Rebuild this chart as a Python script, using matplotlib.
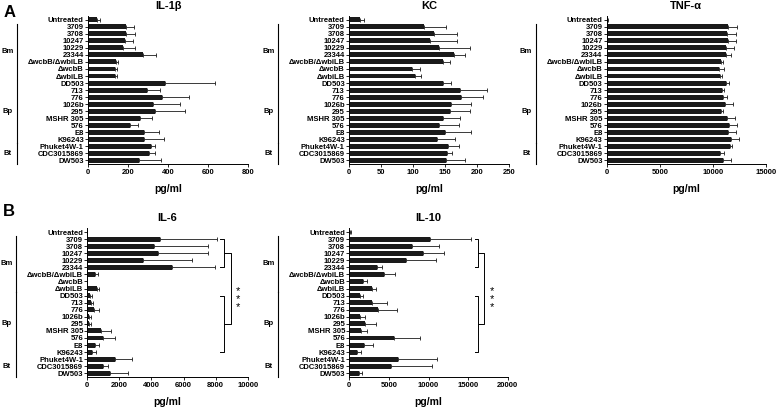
import matplotlib
matplotlib.use("Agg")
import matplotlib.pyplot as plt
import matplotlib.transforms as mtrans
import numpy as np

plt.rcParams['font.family'] = ['Liberation Sans', 'DejaVu Sans']
plt.rcParams['font.weight'] = 'bold'

strains = ['Untreated', '3709', '3708', '10247', '10229', '23344',
           '\u0394wcbB/\u0394wbiLB', '\u0394wcbB', '\u0394wbiLB', 'DD503',
           '713', '776', '1026b', '295', 'MSHR 305', '576', 'E8', 'K96243',
           'Phuket4W-1', 'CDC3015869', 'DW503']
groups = [('Bm', 1, 8), ('Bp', 9, 17), ('Bt', 18, 20)]

il1b = [45, 190, 192, 187, 175, 275, 142, 133, 137, 383, 295, 370, 325, 337, 258, 208, 278, 282, 317, 307, 253]
il1b_sd = [15, 38, 45, 36, 58, 65, 8, 12, 8, 254, 63, 133, 137, 150, 64, 42, 75, 96, 20, 26, 114]
kc = [17, 117, 133, 126, 140, 164, 147, 98, 103, 147, 173, 174, 159, 158, 146, 140, 149, 137, 154, 153, 152]
kc_sd = [6, 34, 36, 43, 48, 17, 11, 13, 9, 12, 43, 35, 31, 30, 27, 32, 41, 29, 18, 7, 29]
tnf = [30, 11450, 11300, 11420, 11200, 11200, 10760, 10600, 10670, 11230, 10890, 10950, 11140, 10760, 11300, 11550, 11450, 11670, 11610, 10670, 10980]
tnf_sd = [120, 850, 875, 755, 820, 470, 220, 445, 160, 290, 190, 410, 785, 220, 780, 690, 690, 790, 220, 410, 690]
il6 = [0, 4530, 4160, 4430, 3450, 5260, 480, 0, 580, 170, 210, 440, 125, 125, 830, 1000, 480, 310, 1730, 960, 1410]
il6_sd = [0, 3580, 3340, 3120, 3060, 2700, 210, 0, 150, 100, 120, 310, 85, 75, 650, 730, 250, 210, 1040, 350, 1110]
il10 = [30, 10190, 7960, 9350, 7160, 3540, 4420, 1770, 2900, 1350, 2900, 3660, 1350, 1980, 1430, 5640, 1890, 1010, 6100, 5220, 1260]
il10_sd = [140, 5130, 3370, 2650, 3740, 540, 1350, 420, 430, 420, 1820, 2320, 630, 1390, 760, 3290, 1060, 420, 4930, 5180, 300]

W = 778
fig = plt.figure(figsize=(7.78, 4.08), dpi=100)


def panel(rect, title, vals, sd, xmax, step):
    ax = fig.add_axes(rect)
    y = np.arange(len(strains))
    ax.barh(y, vals, height=0.7, color='#1a1a1a', zorder=2)
    ax.errorbar(vals, y, xerr=[np.zeros(len(sd)), sd], fmt='none',
                ecolor='#1a1a1a', elinewidth=0.6, capsize=1.3, capthick=0.6, zorder=1)
    ax.set_ylim(20.45, -0.6)
    ax.set_xlim(0, xmax)
    ax.set_xticks(np.arange(0, xmax + 1, step))
    ax.set_yticks(y)
    ax.set_yticklabels(strains)
    ax.tick_params(axis='y', labelsize=5.5, length=2, width=0.6, pad=1)
    ax.tick_params(axis='x', labelsize=5.5, length=2, width=0.6, pad=2)
    for s in ('top', 'right'):
        ax.spines[s].set_visible(False)
    for s in ('left', 'bottom'):
        ax.spines[s].set_linewidth(0.7)
    ax.set_title(title, fontsize=8, fontweight='bold', pad=5)
    ax.set_xlabel('pg/ml', fontsize=7.5, fontweight='bold', labelpad=6)
    # strain group brackets to the left of the labels
    tr = mtrans.blended_transform_factory(fig.transFigure, ax.transData)
    xl = rect[0] - 71.0 / W
    xt = rect[0] - 80.5 / W
    for name, a, b in groups:
        ax.plot([xl, xl], [a - 0.45, b + 0.45], color='black', lw=0.8,
                transform=tr, clip_on=False)
        ax.text(xt, (a + b) / 2, name, fontsize=5.5, ha='center', va='center',
                transform=tr)
    return ax


def brackets(ax, x_tick, x_vert, x_join, x_star):
    kw = dict(color='black', lw=0.7, clip_on=False)
    for a, b in ((1, 5), (9, 17)):
        ax.plot([x_tick, x_vert, x_vert, x_tick], [a, a, b, b], **kw)
    ax.plot([x_vert, x_join, x_join, x_vert], [3, 3, 13, 13], **kw)
    ax.text(x_star, 9.45, '*\n*\n*', fontsize=8, fontweight='normal',
            linespacing=0.75, ha='center', va='center', clip_on=False)


top = [0.599, 0.363]
bot = [0.0772, 0.3645]
panel([0.1131, top[0], 0.2057, top[1]], 'IL-1\u03b2', il1b, il1b_sd, 800, 200)
panel([0.4486, top[0], 0.2060, top[1]], 'KC', kc, kc_sd, 250, 50)
panel([0.7798, top[0], 0.2048, top[1]], 'TNF-\u03b1', tnf, tnf_sd, 15000, 5000)
ax6 = panel([0.1122, bot[0], 0.2062, bot[1]], 'IL-6', il6, il6_sd, 10000, 2000)
ax10 = panel([0.4490, bot[0], 0.2036, bot[1]], 'IL-10', il10, il10_sd, 20000, 5000)

brackets(ax6, 8250, 8550, 8950, 9400)
brackets(ax10, 15870, 16290, 17050, 17980)

fig.text(0.004, 0.969, 'A', fontsize=12, fontweight='bold', va='center')
fig.text(0.004, 0.481, 'B', fontsize=12, fontweight='bold', va='center')

fig.savefig('out.png', dpi=100)
